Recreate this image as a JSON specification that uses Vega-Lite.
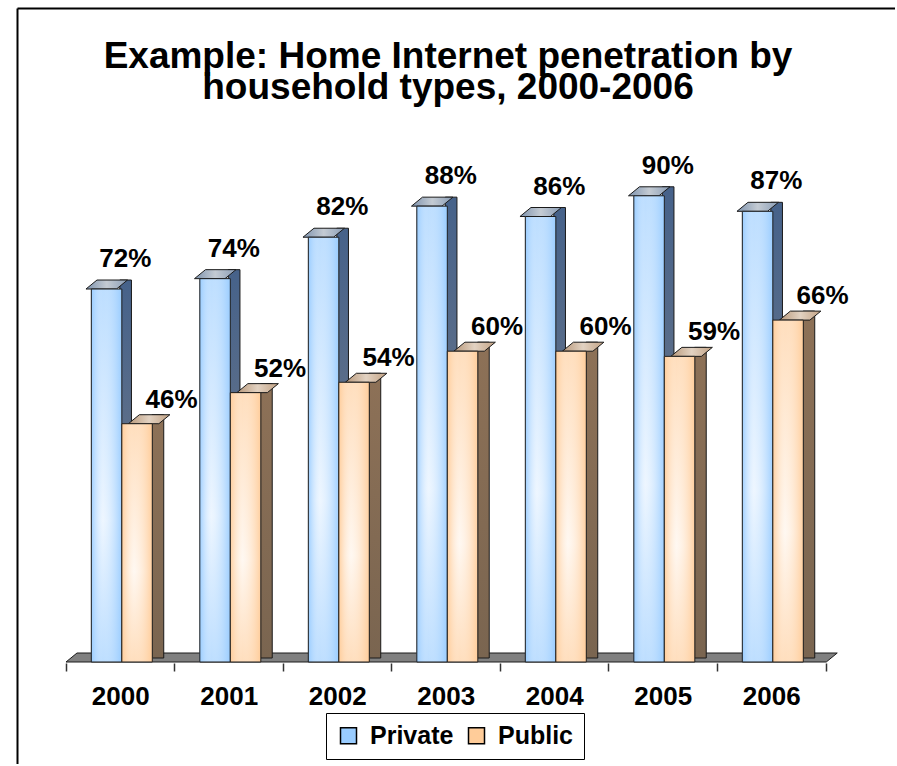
{
  "$schema": "https://vega.github.io/schema/vega-lite/v6.json",
  "width": 878,
  "height": 756,
  "padding": {"left": 17, "top": 8, "right": 0, "bottom": 0},
  "background": "white",
  "config": {"view": {"stroke": null}},
  "title": {
    "text": ["Example: Home Internet penetration by", "household types, 2000-2006"],
    "font": "Liberation Sans",
    "fontSize": 37,
    "fontWeight": "bold",
    "color": "#000",
    "anchor": "middle",
    "frame": "group",
    "offset": -99,
    "dx": -8,
    "lineHeight": 31
  },
  "data": {
    "values": [
      {"year": "2000", "series": "Private", "value": 0.72},
      {"year": "2001", "series": "Private", "value": 0.74},
      {"year": "2002", "series": "Private", "value": 0.82},
      {"year": "2003", "series": "Private", "value": 0.88},
      {"year": "2004", "series": "Private", "value": 0.86},
      {"year": "2005", "series": "Private", "value": 0.90},
      {"year": "2006", "series": "Private", "value": 0.87},
      {"year": "2000", "series": "Public", "value": 0.46},
      {"year": "2001", "series": "Public", "value": 0.52},
      {"year": "2002", "series": "Public", "value": 0.54},
      {"year": "2003", "series": "Public", "value": 0.60},
      {"year": "2004", "series": "Public", "value": 0.60},
      {"year": "2005", "series": "Public", "value": 0.59},
      {"year": "2006", "series": "Public", "value": 0.66}
    ]
  },
  "resolve": {"axis": {"x": "independent"}, "scale": {"x": "independent", "xOffset": "independent"}},
  "layer": [
    {
      "transform": [{"filter": "datum.year == '2000' && datum.series == 'Private'"}],
      "mark": {"type": "point", "opacity": 0},
      "encoding": {
        "x": {"field": "series", "type": "nominal", "scale": {"type": "band", "domain": ["Private"], "paddingInner": 0, "paddingOuter": 0},
              "axis": {"orient": "top", "bandPosition": 0, "domain": true, "domainColor": "#000", "domainWidth": 2, "ticks": false, "labels": false, "grid": true, "gridColor": "#000", "gridWidth": 2, "gridOpacity": 1, "title": null}},
        "y": {"datum": 0.5, "type": "quantitative", "scale": {"domain": [-0.1969, 1.2625], "zero": false, "nice": false}, "axis": null}
      }
    },
    {
      "transform": [{"filter": "datum.year == '2000' && datum.series == 'Private'"}],
      "mark": {"type": "point", "shape": "M-54.25,0L706,0L717,-9L-43.25,-9Z", "size": 4, "filled": true, "fill": "#808080", "stroke": "#1a1a1a", "strokeWidth": 1, "opacity": 1},
      "encoding": {
        "x": {"field": "year", "type": "ordinal", "scale": {"type": "band", "domain": ["2000","2001","2002","2003","2004","2005","2006"], "paddingInner": 0, "paddingOuter": 0.54608, "align": 0.4135}, "axis": null},
        "y": {"datum": 0, "type": "quantitative", "scale": {"domain": [-0.1969, 1.2625], "zero": false, "nice": false}, "axis": null}
      }
    },
    {
      "mark": {"type": "bar", "opacity": 1},
      "encoding": {
        "x": {"field": "year", "type": "ordinal", "scale": {"type": "band", "domain": ["2000","2001","2002","2003","2004","2005","2006"], "paddingInner": 0, "paddingOuter": 0.54608, "align": 0.4135},
              "axis": {"orient": "bottom", "offset": -101, "domain": false, "tickBand": "extent", "ticks": true, "tickSize": 8, "tickColor": "#333", "tickWidth": 1.5, "labelFont": "Liberation Sans", "labelFontSize": 26, "labelFontWeight": "bold", "labelColor": "#000", "labelPadding": 12, "labelAngle": 0, "grid": false, "title": null}},
        "xOffset": {"field": "series", "type": "nominal", "scale": {"domain": ["Private", "Public"], "paddingInner": 0, "paddingOuter": 0.779, "align": 0.533}},
        "y": {"field": "value", "type": "quantitative", "stack": null, "scale": {"domain": [-0.1969, 1.2625], "zero": false, "nice": false}, "axis": null},
        "y2": {"datum": 0},
        "fill": {"field": "series", "type": "nominal", "scale": {"domain": ["Private", "Public"], "range": ["#99CCFF", "#FFCC99"]},
                 "legend": {"orient": "none", "legendX": 309, "legendY": 705, "direction": "horizontal", "title": null, "symbolType": "square", "symbolSize": 256, "symbolStrokeColor": "#000", "symbolStrokeWidth": 1.5, "symbolOpacity": 1, "labelFont": "Liberation Sans", "labelFontSize": 25, "labelFontWeight": "bold", "labelColor": "#000", "strokeColor": "#000", "padding": 10, "columnPadding": 10, "labelOffset": 9}}
      }
    },
    {
      "transform": [{"filter": "datum.series == 'Private'"}],
      "mark": {"type": "bar", "yOffset": -9, "y2Offset": -4, "opacity": 1, "stroke": "#1a1a1a", "strokeWidth": 1,
               "fill": {"gradient": "linear", "x1": 0, "y1": 0, "x2": 0, "y2": 1, "stops": [{"offset": 0, "color": "#46628A"}, {"offset": 1, "color": "#7C8088"}]}},
      "encoding": {
        "x": {"field": "year", "type": "ordinal", "scale": {"type": "band", "domain": ["2000","2001","2002","2003","2004","2005","2006"], "paddingInner": 0, "paddingOuter": 0.54608, "align": 0.4135}, "axis": null},
        "xOffset": {"field": "series", "type": "nominal", "scale": {"domain": ["Private", "Public"], "paddingInner": 0.639, "paddingOuter": 1.098, "align": 0.8334}},
        "y": {"field": "value", "type": "quantitative", "stack": null, "scale": {"domain": [-0.1969, 1.2625], "zero": false, "nice": false}, "axis": null},
        "y2": {"datum": 0}
      }
    },
    {
      "transform": [{"filter": "datum.series == 'Private'"}],
      "mark": {"type": "point", "shape": "M-15.25,0L15.25,0L26.25,-9L-4.25,-9Z", "size": 4, "filled": true, "opacity": 1, "stroke": "#1a1a1a", "strokeWidth": 1,
               "fill": {"gradient": "linear", "x1": 0, "y1": 0, "x2": 1, "y2": 0, "stops": [{"offset": 0, "color": "#7E93AE"}, {"offset": 0.5, "color": "#C4CBD3"}, {"offset": 1, "color": "#8A9DB6"}]}},
      "encoding": {
        "x": {"field": "year", "type": "ordinal", "scale": {"type": "band", "domain": ["2000","2001","2002","2003","2004","2005","2006"], "paddingInner": 0, "paddingOuter": 0.54608, "align": 0.4135}, "axis": null},
        "xOffset": {"field": "series", "type": "nominal", "scale": {"domain": ["Private", "Public"], "paddingInner": 0, "paddingOuter": 0.779, "align": 0.533}},
        "y": {"field": "value", "type": "quantitative", "scale": {"domain": [-0.1969, 1.2625], "zero": false, "nice": false}, "axis": null}
      }
    },
    {
      "transform": [{"filter": "datum.series == 'Private'"}],
      "mark": {"type": "bar", "opacity": 1,
               "fill": {"gradient": "linear", "x1": 0, "y1": 0, "x2": 0, "y2": 1, "stops": [{"offset": 0, "color": "#99CCFF"}, {"offset": 0.62, "color": "#E4F1FF"}, {"offset": 1, "color": "#99CCFF"}]}},
      "encoding": {
        "x": {"field": "year", "type": "ordinal", "scale": {"type": "band", "domain": ["2000","2001","2002","2003","2004","2005","2006"], "paddingInner": 0, "paddingOuter": 0.54608, "align": 0.4135}, "axis": null},
        "xOffset": {"field": "series", "type": "nominal", "scale": {"domain": ["Private", "Public"], "paddingInner": 0, "paddingOuter": 0.779, "align": 0.533}},
        "y": {"field": "value", "type": "quantitative", "stack": null, "scale": {"domain": [-0.1969, 1.2625], "zero": false, "nice": false}, "axis": null},
        "y2": {"datum": 0}
      }
    },
    {
      "transform": [{"filter": "datum.series == 'Private'"}],
      "mark": {"type": "bar", "opacity": 1, "stroke": "#1a1a1a", "strokeWidth": 1,
               "fill": {"gradient": "linear", "x1": 0, "y1": 0, "x2": 1, "y2": 0, "stops": [{"offset": 0, "color": "rgba(153,204,255,0.9)"}, {"offset": 0.38, "color": "rgba(255,255,255,0.35)"}, {"offset": 1, "color": "rgba(153,204,255,0.9)"}]}},
      "encoding": {
        "x": {"field": "year", "type": "ordinal", "scale": {"type": "band", "domain": ["2000","2001","2002","2003","2004","2005","2006"], "paddingInner": 0, "paddingOuter": 0.54608, "align": 0.4135}, "axis": null},
        "xOffset": {"field": "series", "type": "nominal", "scale": {"domain": ["Private", "Public"], "paddingInner": 0, "paddingOuter": 0.779, "align": 0.533}},
        "y": {"field": "value", "type": "quantitative", "stack": null, "scale": {"domain": [-0.1969, 1.2625], "zero": false, "nice": false}, "axis": null},
        "y2": {"datum": 0}
      }
    },
    {
      "transform": [{"filter": "datum.series == 'Private'"}],
      "mark": {"type": "text", "font": "Liberation Sans", "fontSize": 26, "fontWeight": "bold", "color": "#000", "align": "center", "baseline": "alphabetic", "dx": 24, "dy": -22},
      "encoding": {
        "x": {"field": "year", "type": "ordinal", "scale": {"type": "band", "domain": ["2000","2001","2002","2003","2004","2005","2006"], "paddingInner": 0, "paddingOuter": 0.54608, "align": 0.4135}, "axis": null},
        "xOffset": {"field": "series", "type": "nominal", "scale": {"domain": ["Private", "Public"], "paddingInner": 0, "paddingOuter": 0.779, "align": 0.533}},
        "y": {"field": "value", "type": "quantitative", "scale": {"domain": [-0.1969, 1.2625], "zero": false, "nice": false}, "axis": null},
        "text": {"field": "value", "type": "quantitative", "format": ".0%"}
      }
    },
    {
      "transform": [{"filter": "datum.series == 'Public'"}],
      "mark": {"type": "bar", "yOffset": -9, "y2Offset": -4, "opacity": 1, "stroke": "#1a1a1a", "strokeWidth": 1,
               "fill": {"gradient": "linear", "x1": 0, "y1": 0, "x2": 0, "y2": 1, "stops": [{"offset": 0, "color": "#8D7157"}, {"offset": 1, "color": "#7A6550"}]}},
      "encoding": {
        "x": {"field": "year", "type": "ordinal", "scale": {"type": "band", "domain": ["2000","2001","2002","2003","2004","2005","2006"], "paddingInner": 0, "paddingOuter": 0.54608, "align": 0.4135}, "axis": null},
        "xOffset": {"field": "series", "type": "nominal", "scale": {"domain": ["Private", "Public"], "paddingInner": 0.639, "paddingOuter": 1.098, "align": 0.8334}},
        "y": {"field": "value", "type": "quantitative", "stack": null, "scale": {"domain": [-0.1969, 1.2625], "zero": false, "nice": false}, "axis": null},
        "y2": {"datum": 0}
      }
    },
    {
      "transform": [{"filter": "datum.series == 'Public'"}],
      "mark": {"type": "point", "shape": "M-15.25,0L15.25,0L26.25,-9L-4.25,-9Z", "size": 4, "filled": true, "opacity": 1, "stroke": "#1a1a1a", "strokeWidth": 1,
               "fill": {"gradient": "linear", "x1": 0, "y1": 0, "x2": 1, "y2": 0, "stops": [{"offset": 0, "color": "#B8987A"}, {"offset": 0.5, "color": "#E2D2C2"}, {"offset": 1, "color": "#C2A284"}]}},
      "encoding": {
        "x": {"field": "year", "type": "ordinal", "scale": {"type": "band", "domain": ["2000","2001","2002","2003","2004","2005","2006"], "paddingInner": 0, "paddingOuter": 0.54608, "align": 0.4135}, "axis": null},
        "xOffset": {"field": "series", "type": "nominal", "scale": {"domain": ["Private", "Public"], "paddingInner": 0, "paddingOuter": 0.779, "align": 0.533}},
        "y": {"field": "value", "type": "quantitative", "scale": {"domain": [-0.1969, 1.2625], "zero": false, "nice": false}, "axis": null}
      }
    },
    {
      "transform": [{"filter": "datum.series == 'Public'"}],
      "mark": {"type": "bar", "opacity": 1,
               "fill": {"gradient": "linear", "x1": 0, "y1": 0, "x2": 0, "y2": 1, "stops": [{"offset": 0, "color": "#FFCC99"}, {"offset": 0.62, "color": "#FFF4EA"}, {"offset": 1, "color": "#FFCC99"}]}},
      "encoding": {
        "x": {"field": "year", "type": "ordinal", "scale": {"type": "band", "domain": ["2000","2001","2002","2003","2004","2005","2006"], "paddingInner": 0, "paddingOuter": 0.54608, "align": 0.4135}, "axis": null},
        "xOffset": {"field": "series", "type": "nominal", "scale": {"domain": ["Private", "Public"], "paddingInner": 0, "paddingOuter": 0.779, "align": 0.533}},
        "y": {"field": "value", "type": "quantitative", "stack": null, "scale": {"domain": [-0.1969, 1.2625], "zero": false, "nice": false}, "axis": null},
        "y2": {"datum": 0}
      }
    },
    {
      "transform": [{"filter": "datum.series == 'Public'"}],
      "mark": {"type": "bar", "opacity": 1, "stroke": "#1a1a1a", "strokeWidth": 1,
               "fill": {"gradient": "linear", "x1": 0, "y1": 0, "x2": 1, "y2": 0, "stops": [{"offset": 0, "color": "rgba(255,204,153,0.9)"}, {"offset": 0.4, "color": "rgba(255,255,255,0.35)"}, {"offset": 1, "color": "rgba(255,204,153,0.9)"}]}},
      "encoding": {
        "x": {"field": "year", "type": "ordinal", "scale": {"type": "band", "domain": ["2000","2001","2002","2003","2004","2005","2006"], "paddingInner": 0, "paddingOuter": 0.54608, "align": 0.4135}, "axis": null},
        "xOffset": {"field": "series", "type": "nominal", "scale": {"domain": ["Private", "Public"], "paddingInner": 0, "paddingOuter": 0.779, "align": 0.533}},
        "y": {"field": "value", "type": "quantitative", "stack": null, "scale": {"domain": [-0.1969, 1.2625], "zero": false, "nice": false}, "axis": null},
        "y2": {"datum": 0}
      }
    },
    {
      "transform": [{"filter": "datum.series == 'Public'"}],
      "mark": {"type": "text", "font": "Liberation Sans", "fontSize": 26, "fontWeight": "bold", "color": "#000", "align": "center", "baseline": "alphabetic", "dx": 28, "dy": -16},
      "encoding": {
        "x": {"field": "year", "type": "ordinal", "scale": {"type": "band", "domain": ["2000","2001","2002","2003","2004","2005","2006"], "paddingInner": 0, "paddingOuter": 0.54608, "align": 0.4135}, "axis": null},
        "xOffset": {"field": "series", "type": "nominal", "scale": {"domain": ["Private", "Public"], "paddingInner": 0, "paddingOuter": 0.779, "align": 0.533}},
        "y": {"field": "value", "type": "quantitative", "scale": {"domain": [-0.1969, 1.2625], "zero": false, "nice": false}, "axis": null},
        "text": {"field": "value", "type": "quantitative", "format": ".0%"}
      }
    }
  ]
}
